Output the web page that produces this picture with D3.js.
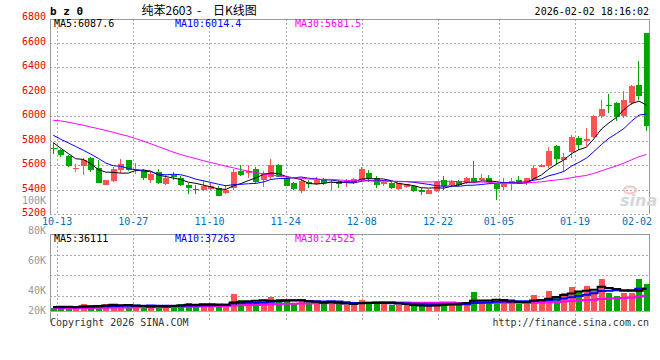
<!DOCTYPE html>
<html><head><meta charset="utf-8">
<script src="https://cdn.jsdelivr.net/npm/d3@7"></script>
<style>body{margin:0;background:#fff}svg{display:block}</style>
</head><body><svg id="c" width="660" height="360"></svg>
<script>
// ---------- data ----------
const dates = ["10-10","10-13","10-14","10-15","10-16","10-17","10-20","10-21","10-22","10-23","10-24","10-27","10-28","10-29","10-30","10-31",
"11-03","11-04","11-05","11-06","11-07","11-10","11-11","11-12","11-13","11-14","11-17","11-18","11-19","11-20","11-21","11-24","11-25","11-26","11-27","11-28",
"12-01","12-02","12-03","12-04","12-05","12-08","12-09","12-10","12-11","12-12","12-15","12-16","12-17","12-18","12-19","12-22","12-23","12-24","12-25","12-26","12-29","12-30","12-31",
"01-05","01-06","01-07","01-08","01-09","01-12","01-13","01-14","01-15","01-16","01-19","01-20","01-21","01-22","01-23","01-26","01-27","01-28","01-29","01-30","02-02"];
const open  = [5742,5719,5670,5570,5589,5659,5578,5435,5470,5557,5638,5557,5562,5476,5543,5443,5522,5497,5435,5405,5400,5408,5416,5368,5410,5550,5531,5566,5476,5498,5599,5490,5454,5386,5463,5444,5482,5449,5463,5449,5454,5476,5531,5490,5441,5454,5403,5422,5427,5395,5367,5386,5476,5435,5468,5454,5495,5476,5495,5441,5422,5441,5476,5449,5487,5585,5590,5753,5639,5704,5821,5794,5829,5997,6087,6106,5997,6106,6255,6676];
const high  = [5778,5732,5678,5611,5659,5665,5638,5478,5584,5651,5643,5616,5570,5543,5570,5516,5543,5508,5449,5435,5476,5454,5427,5435,5570,5599,5599,5580,5550,5648,5607,5503,5460,5482,5476,5498,5490,5482,5476,5482,5490,5580,5563,5509,5476,5463,5454,5446,5435,5416,5403,5470,5509,5476,5476,5503,5636,5530,5522,5454,5490,5495,5509,5495,5598,5606,5748,5767,5699,5848,5834,5902,6011,6133,6182,6111,6201,6255,6445,6680];
const low   = [5692,5665,5584,5543,5516,5543,5449,5433,5462,5535,5551,5530,5481,5454,5443,5435,5476,5427,5362,5362,5389,5395,5346,5362,5395,5509,5495,5454,5422,5482,5498,5427,5400,5373,5416,5435,5435,5400,5416,5422,5444,5463,5463,5416,5430,5405,5400,5416,5381,5354,5362,5378,5400,5420,5427,5446,5454,5468,5454,5313,5395,5400,5441,5440,5481,5580,5576,5598,5549,5658,5720,5758,5821,5984,6025,5957,5984,6092,6133,5875];
const close = [5737,5681,5589,5578,5643,5557,5454,5476,5570,5611,5557,5565,5494,5524,5449,5497,5503,5435,5416,5400,5427,5427,5351,5400,5543,5522,5550,5463,5536,5599,5503,5430,5405,5471,5441,5476,5454,5463,5441,5471,5482,5566,5482,5435,5463,5416,5449,5441,5389,5378,5400,5462,5427,5462,5435,5495,5462,5495,5462,5408,5446,5473,5454,5490,5576,5598,5718,5650,5663,5829,5767,5815,5997,6060,6082,5989,6133,6242,6160,5921];
const volume = [5500,8200,8200,3800,11500,8200,9900,11500,9900,8200,9900,6000,6600,7100,9900,7100,9900,11500,13200,9900,11500,9300,9300,11500,28000,18000,14100,12500,15800,22800,19600,18000,11400,15800,15800,14100,11400,14100,11400,10300,10300,18000,14700,14700,11400,10300,10300,10300,7600,7600,7600,13000,14700,13000,10300,14700,31000,16300,13000,16300,13000,19600,11400,13000,26000,18000,32600,24500,29400,39200,33500,40500,32600,53000,29400,24500,29400,30000,53000,43500];
// moving-average values before enough bars exist
const ma5Head  = [5783,5737,5694,5651];
const ma10Head = [5843,5810,5781,5751,5721,5689,5654,5616,5594];
const ma30Head = [5965,5960,5950,5937,5925,5910,5897,5882,5867,5850,5835,5815,5795,5773,5750,5728,5705,5685,5668,5652,5635,5620,5605,5590,5577,5562,5550,5538,5528];
const volMa5Head  = [6500,6800,7100,6500];
const volMa10Head = [6100,6200,6400,6200,6800,7000,7400,7900,8300];
const volMa30Head = [4400,4500,4600,4600,4900,5000,5200,5400,5600,5700,5900,6000,6100,6100,6300,6400,6600,6800,7100,7300,7600,7700,7900,8100,8900,9400,9700,10000,10300];
const tickLabels = ["10-13","10-27","11-10","11-24","12-08","12-22","01-05","01-19","02-02"];
const priceTicks = [5200,5400,5600,5800,6000,6200,6400,6600,6800];
const volTicks = [100000,80000,60000,40000,20000];
const volTickLabels = ["100K","80K","60K","40K","20K"];
const maHeader = ["MA5:6087.6","MA10:6014.4","MA30:5681.5"];
const volMaHeader = ["MA5:36111","MA10:37263","MA30:24525"];
const maColors = ["#000000","#0000ff","#ff00ff"];

// ---------- helpers ----------
function ma(arr, n, head){
  return arr.map((v,i)=> i < n-1 ? head[i] : d3.mean(arr.slice(i-n+1,i+1)));
}
const N = dates.length;
const idx = d3.range(N);
const svg = d3.select("#c");
const MONO = "'DejaVu Sans Mono', 'Liberation Mono', monospace";
const RED = "#ff5252", GREEN = "#00a600";
const L = 50, R = 649.5;

const xC = d3.scaleLinear().domain([0,N-1]).range([52.7,646]);
const xG = d3.scaleLinear().domain([0,N-1]).range([49.5,651.2]);
const yP = d3.scaleLinear().domain([5200,6800]).range([214,18]);
const yV = d3.scaleLinear().domain([0,126000]).range([311,234.2]);
const yVLab = d3.scaleLinear().domain([20000,40000,100000]).range([310.7,290.7,200.7]);
const yVGrid = d3.scaleLinear().domain([0,4]).range([234.3,316]);

const tickIdx = tickLabels.map(t=>dates.indexOf(t));

// ---------- main panel grid ----------
const g = svg.append("g").attr("shape-rendering","crispEdges");
priceTicks.slice(1,-1).forEach(p=>{
  g.append("line").attr("x1",L).attr("x2",R).attr("y1",Math.round(yP(p))+0.5).attr("y2",Math.round(yP(p))+0.5)
   .attr("stroke","#aaa").attr("stroke-dasharray","2,2");
});
g.append("line").attr("x1",L).attr("x2",R).attr("y1",214.5).attr("y2",214.5).attr("stroke","#aaa").attr("stroke-dasharray","2,2");
tickIdx.slice(0,-1).forEach(i=>{
  const x = Math.round(xG(i))+0.5;
  g.append("line").attr("x1",x).attr("x2",x).attr("y1",19).attr("y2",214).attr("stroke","#aaa").attr("stroke-dasharray","2,2");
  g.append("line").attr("x1",x).attr("x2",x).attr("y1",234).attr("y2",322).attr("stroke","#aaa").attr("stroke-dasharray","2,2");
});
// volume horizontal grid
[1,2,3].forEach(k=>{
  const y = Math.round(yVGrid(k))+0.5;
  g.append("line").attr("x1",L).attr("x2",R).attr("y1",y).attr("y2",y).attr("stroke","#aaa").attr("stroke-dasharray","2,2");
});
// frames
g.append("line").attr("x1",L).attr("x2",R).attr("y1",19.5).attr("y2",19.5).attr("stroke","#999");
g.append("line").attr("x1",L+0.5).attr("x2",L+0.5).attr("y1",19).attr("y2",214).attr("stroke","#999");
g.append("line").attr("x1",R).attr("x2",R).attr("y1",19).attr("y2",214).attr("stroke","#999");
g.append("line").attr("x1",L).attr("x2",R).attr("y1",234.5).attr("y2",234.5).attr("stroke","#999");
g.append("line").attr("x1",L+0.5).attr("x2",L+0.5).attr("y1",234).attr("y2",322).attr("stroke","#999");
g.append("line").attr("x1",R).attr("x2",R).attr("y1",234).attr("y2",311).attr("stroke","#999");
g.append("line").attr("x1",L).attr("x2",R).attr("y1",311.5).attr("y2",311.5).attr("stroke","#aaa");

// watermark
const wm = svg.append("g");
wm.append("ellipse").attr("cx",630).attr("cy",190).attr("rx",6).attr("ry",3.5).attr("fill","none").attr("stroke","#f2c4c4").attr("stroke-width",2);
wm.append("text").attr("x",620).attr("y",206).attr("font-family","'DejaVu Sans',sans-serif").attr("font-size",16).attr("font-weight","bold").attr("font-style","italic").attr("fill","#d6d6d6").text("sina");

// ---------- candles ----------
const clip = svg.append("clipPath").attr("id","mc").append("rect").attr("x",L+1).attr("y",19).attr("width",R-L-1).attr("height",196);
const cg = svg.append("g").attr("clip-path","url(#mc)").attr("shape-rendering","crispEdges");
idx.forEach(i=>{
  const up = close[i] >= open[i];
  const col = up ? RED : GREEN;
  const cx = Math.round(xC(i));
  cg.append("line").attr("x1",cx+0.5).attr("x2",cx+0.5).attr("y1",yP(high[i])).attr("y2",yP(low[i])).attr("stroke",col);
  const yt = yP(Math.max(open[i],close[i])), yb = yP(Math.min(open[i],close[i]));
  cg.append("rect").attr("x",cx-2).attr("width",6).attr("y",yt).attr("height",Math.max(1,yb-yt)).attr("fill",col);
});
// MA lines (price)
const priceMAs = [ma(close,5,ma5Head), ma(close,10,ma10Head), ma(close,30,ma30Head)];
const lineP = d3.line().x((d,i)=>xC(i)+0.5).y(d=>yP(d));
priceMAs.forEach((arr,k)=>{
  svg.append("path").attr("clip-path","url(#mc)").attr("d",lineP(arr)).attr("fill","none").attr("stroke",maColors[k]).attr("stroke-width",1);
});

// ---------- volume ----------
const vg = svg.append("g").attr("shape-rendering","crispEdges");
idx.forEach(i=>{
  const col = close[i] >= open[i] ? RED : GREEN;
  const cx = Math.round(xC(i));
  vg.append("rect").attr("x",cx-2).attr("width",6).attr("y",yV(volume[i])).attr("height",yV(0)-yV(volume[i])).attr("fill",col);
});
const volMAs = [ma(volume,5,volMa5Head), ma(volume,10,volMa10Head), ma(volume,30,volMa30Head)];
const lineV = d3.line().x((d,i)=>xC(i)+0.5).y(d=>yV(d)).curve(d3.curveStep);
[2,1,0].forEach(k=>{
  svg.append("path").attr("d",lineV(volMAs[k])).attr("fill","none").attr("stroke",maColors[k]).attr("stroke-width",2);
});

// ---------- texts ----------
const t = (x,y,s,fill,opts={})=>{
  const e = svg.append("text").attr("x",x).attr("y",y).attr("font-family",opts.family||MONO)
    .attr("font-size",opts.size||10).attr("fill",fill).text(s);
  if(opts.anchor) e.attr("text-anchor",opts.anchor);
  if(opts.weight) e.attr("font-weight",opts.weight);
  return e;
};
priceTicks.forEach(p=> t(46, yP(p)+2, String(p), "#e80000", {anchor:"end"}));
volTicks.forEach((v,k)=> t(46, yVLab(v)+3.5, volTickLabels[k], "#999", {anchor:"end"}));
tickIdx.forEach((i,k)=>{
  const x = xG(i), w = tickLabels[k].length*6.02;
  if (x + w/2 > 652) t(652, 225, tickLabels[k], "#0070c0", {anchor:"end"});
  else t(x, 225, tickLabels[k], "#0070c0", {anchor:"middle"});
});
const hdrX = [54,175,295];
maHeader.forEach((s,k)=> t(hdrX[k], 26.5, s, maColors[k]));
volMaHeader.forEach((s,k)=> t(hdrX[k], 241.5, s, maColors[k]));
t(50, 15, "b z 0", "#000", {size:11, weight:"bold"});
const CJK = "'Noto Sans CJK SC', sans-serif";
t(141.5, 14.5, "纯苯2603", "#000", {family:CJK, size:12});
t(197, 14.5, "-", "#000", {family:CJK, size:12});
t(213, 14.5, "日K线图", "#000", {family:CJK, size:12});
t(649, 15, "2026-02-02 18:16:02", "#000", {anchor:"end"});
t(50, 326, "Copyright 2026 SINA.COM", "#333");
t(649, 326, "http://finance.sina.com.cn", "#333", {anchor:"end"});
</script></body></html>
